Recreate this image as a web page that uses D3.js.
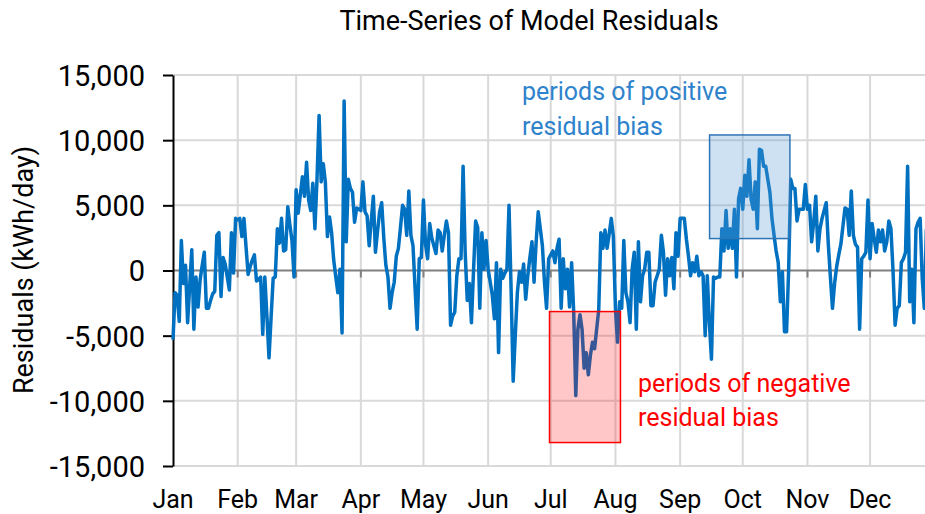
<!DOCTYPE html>
<html>
<head>
<meta charset="utf-8">
<script src="https://cdn.jsdelivr.net/npm/d3@7"></script>
<style>
  html, body { margin: 0; padding: 0; background: #fff; overflow: hidden; }
  svg { display: block; font-family: Roboto, "Liberation Sans", Arial, sans-serif; }
</style>
</head>
<body>
<svg id="chart" width="925" height="514"></svg>
<script>
// ---- data ----
const chartTitle = "Time-Series of Model Residuals";
const yAxisTitle = "Residuals (kWh/day)";
const monthLabels = ["Jan","Feb","Mar","Apr","May","Jun","Jul","Aug","Sep","Oct","Nov","Dec"];
const monthStartDays = [0,31,59,90,120,151,181,212,243,273,304,334];
const yTicks = [-15000,-10000,-5000,0,5000,10000,15000];
// daily residuals (kWh/day), day 0 = Jan 1
const residuals = [
-5300,-1700,-1900,-3900,2300,-1000,400,-4000,-1200,1600,
-4500,-500,-2800,-700,400,1400,-2900,-2900,-2300,-1800,
-1600,2700,2900,-2000,1000,500,-500,-1500,2900,-200,
4000,3900,4000,2600,4000,1800,-300,300,800,1200,
-800,-700,-500,-4900,-500,-3500,-6700,-3600,-600,-500,
3200,2100,4000,1500,1600,4900,3500,2300,-500,6200,
4400,5800,7200,5700,8300,5400,4600,6700,3200,7000,
11900,6800,8200,6800,2600,4100,2900,800,-500,-1700,
100,-4800,13000,2200,7000,6300,6000,3700,4800,4700,
4600,6800,4500,4200,1900,3800,5700,1400,3000,4500,
5200,2500,400,-500,-2900,-1700,-900,1100,1700,3300,
5000,4700,2700,6100,2700,1900,-1400,-4500,900,1000,
5400,2000,900,3600,2500,1900,1300,3100,2900,1500,
2700,3800,2900,-4200,-3500,-3200,-400,900,900,8000,
1400,-2300,-1000,-4000,0,3800,3300,-2900,2900,100,
2300,100,-900,-1900,-3700,600,-6300,100,-600,-200,
100,5000,-1400,-8500,-5000,-1700,-100,-900,500,-2200,
-400,1000,2200,-900,2200,4500,3200,1900,-900,-2900,
900,1200,1500,600,1700,2400,-2900,900,-1400,100,
-2800,600,-3200,-9600,-4500,-3400,-4500,-7500,-6300,-8000,
-6500,-5500,-6000,-4500,-3000,2900,1700,3100,1700,2800,
4000,2600,-2900,-5500,-2400,-2900,2300,-1700,-2400,-4000,
100,1400,-4500,2200,-2400,-400,100,1400,1400,-2700,
-2700,-900,-400,100,2700,1400,-1900,900,-400,1000,
-1400,2900,1100,4000,4000,4000,2400,1100,-400,600,
-100,1100,-400,-100,-400,-5000,-400,-4000,-6800,-500,
-600,-500,-500,3200,1500,4600,1700,3200,1700,4700,
-500,5500,6300,4700,7300,5700,8500,5500,4700,6800,
3200,9300,9200,8000,8000,7000,6000,4000,2700,1500,
600,-2400,-100,-4700,-4700,100,7000,6300,6300,3800,
4700,4700,4700,6600,4700,5000,2200,3700,5700,1500,
3200,4000,4600,5200,2000,-500,-2900,-1000,300,1200,
2000,3400,4800,4700,2700,6100,2700,2000,1800,-4500,
900,1100,1400,5400,900,3600,2400,1400,3100,2200,
3100,1500,2200,3800,3200,0,-4200,-2900,-2700,600,
900,1400,8000,-2400,100,-4000,3200,3700,4000,-600,
-2900,3200
];
// annotation boxes in data units: [startDay, endDay, top kWh, bottom kWh]
const positiveBox = [257.1, 295.6, 10400, 2450];
const negativeBox = [180.4, 214.4, -3150, -13200];
const positiveText = ["periods of positive", "residual bias"];
const negativeText = ["periods of negative", "residual bias"];

// ---- chart ----
const svg = d3.select("#chart");
const daysInYear = 365;
const x = d3.scaleLinear().domain([0, daysInYear]).range([173, 173 + 365 * 2.087]);
const y = d3.scaleLinear().domain([-15000, 15000]).range([466, 75]);

const grid = svg.append("g");
grid.selectAll("line.h").data(yTicks.filter(d => d !== 0)).join("line")
  .attr("x1", x(0)).attr("x2", x(daysInYear))
  .attr("y1", d => y(d)).attr("y2", d => y(d))
  .attr("stroke", "#d9d9d9").attr("stroke-width", 2);
grid.selectAll("line.v").data(monthStartDays.slice(1)).join("line")
  .attr("x1", d => x(d)).attr("x2", d => x(d))
  .attr("y1", y(15000)).attr("y2", y(-15000))
  .attr("stroke", "#d9d9d9").attr("stroke-width", 2);

// zero line (category axis) with small ticks
svg.append("line")
  .attr("x1", x(0)).attr("x2", x(daysInYear))
  .attr("y1", y(0)).attr("y2", y(0))
  .attr("stroke", "#808080").attr("stroke-width", 2);
svg.append("g").selectAll("line").data(monthStartDays.slice(1)).join("line")
  .attr("x1", d => x(d)).attr("x2", d => x(d))
  .attr("y1", y(0)).attr("y2", y(0) + 7)
  .attr("stroke", "#808080").attr("stroke-width", 2);

// y axis
const fmt = d3.format(",");
const yAxis = d3.axisLeft(y).tickValues(yTicks).tickSize(10).tickSizeOuter(0)
  .tickFormat(d => fmt(d).replace("\u2212", "-"));
const yg = svg.append("g").attr("transform", `translate(${x(0)},0)`).call(yAxis);
yg.select(".domain").attr("stroke", "#000").attr("stroke-width", 2);
yg.selectAll(".tick line").attr("stroke", "#000").attr("stroke-width", 2);
yg.selectAll(".tick text").attr("font-size", 29).attr("fill", "#000")
  .attr("font-family", "Roboto, 'Liberation Sans', Arial, sans-serif")
  .attr("x", -28).attr("dy", "0.36em");

// month labels
svg.append("g").selectAll("text").data(monthLabels).join("text")
  .attr("x", (d, i) => x(monthStartDays[i]))
  .attr("y", 508)
  .attr("text-anchor", "middle")
  .attr("font-size", 25)
  .attr("fill", "#000")
  .text(d => d);

// line
const line = d3.line().x((d, i) => x(i)).y(d => y(d)).curve(d3.curveLinear);
svg.append("path").datum(residuals)
  .attr("d", line)
  .attr("fill", "none")
  .attr("stroke", "#0070c0")
  .attr("stroke-width", 3.5)
  .attr("stroke-linejoin", "round");

// annotation boxes
function box(b, fill, opacity, stroke) {
  svg.append("rect")
    .attr("x", x(b[0])).attr("y", y(b[2]))
    .attr("width", x(b[1]) - x(b[0])).attr("height", y(b[3]) - y(b[2]))
    .attr("fill", fill).attr("fill-opacity", opacity)
    .attr("stroke", stroke).attr("stroke-width", 1.5);
}
box(positiveBox, "#5b9bd5", 0.3, "#2e75b6");
box(negativeBox, "#ff0000", 0.22, "#ff0000");

// annotation text
svg.append("g").selectAll("text").data(positiveText).join("text")
  .attr("x", 522).attr("y", (d, i) => 100 + i * 35)
  .attr("font-size", 25).attr("fill", "#2e83cc").text(d => d);
svg.append("g").selectAll("text").data(negativeText).join("text")
  .attr("x", 638).attr("y", (d, i) => 392 + i * 34)
  .attr("font-size", 25).attr("fill", "#ff0000").text(d => d);

// titles
svg.append("text").attr("x", 529).attr("y", 30)
  .attr("text-anchor", "middle").attr("font-size", 27).attr("fill", "#000")
  .text(chartTitle);
svg.append("text")
  .attr("transform", `translate(33,270) rotate(-90)`)
  .attr("text-anchor", "middle").attr("font-size", 27).attr("fill", "#000")
  .text(yAxisTitle);
</script>
</body>
</html>
